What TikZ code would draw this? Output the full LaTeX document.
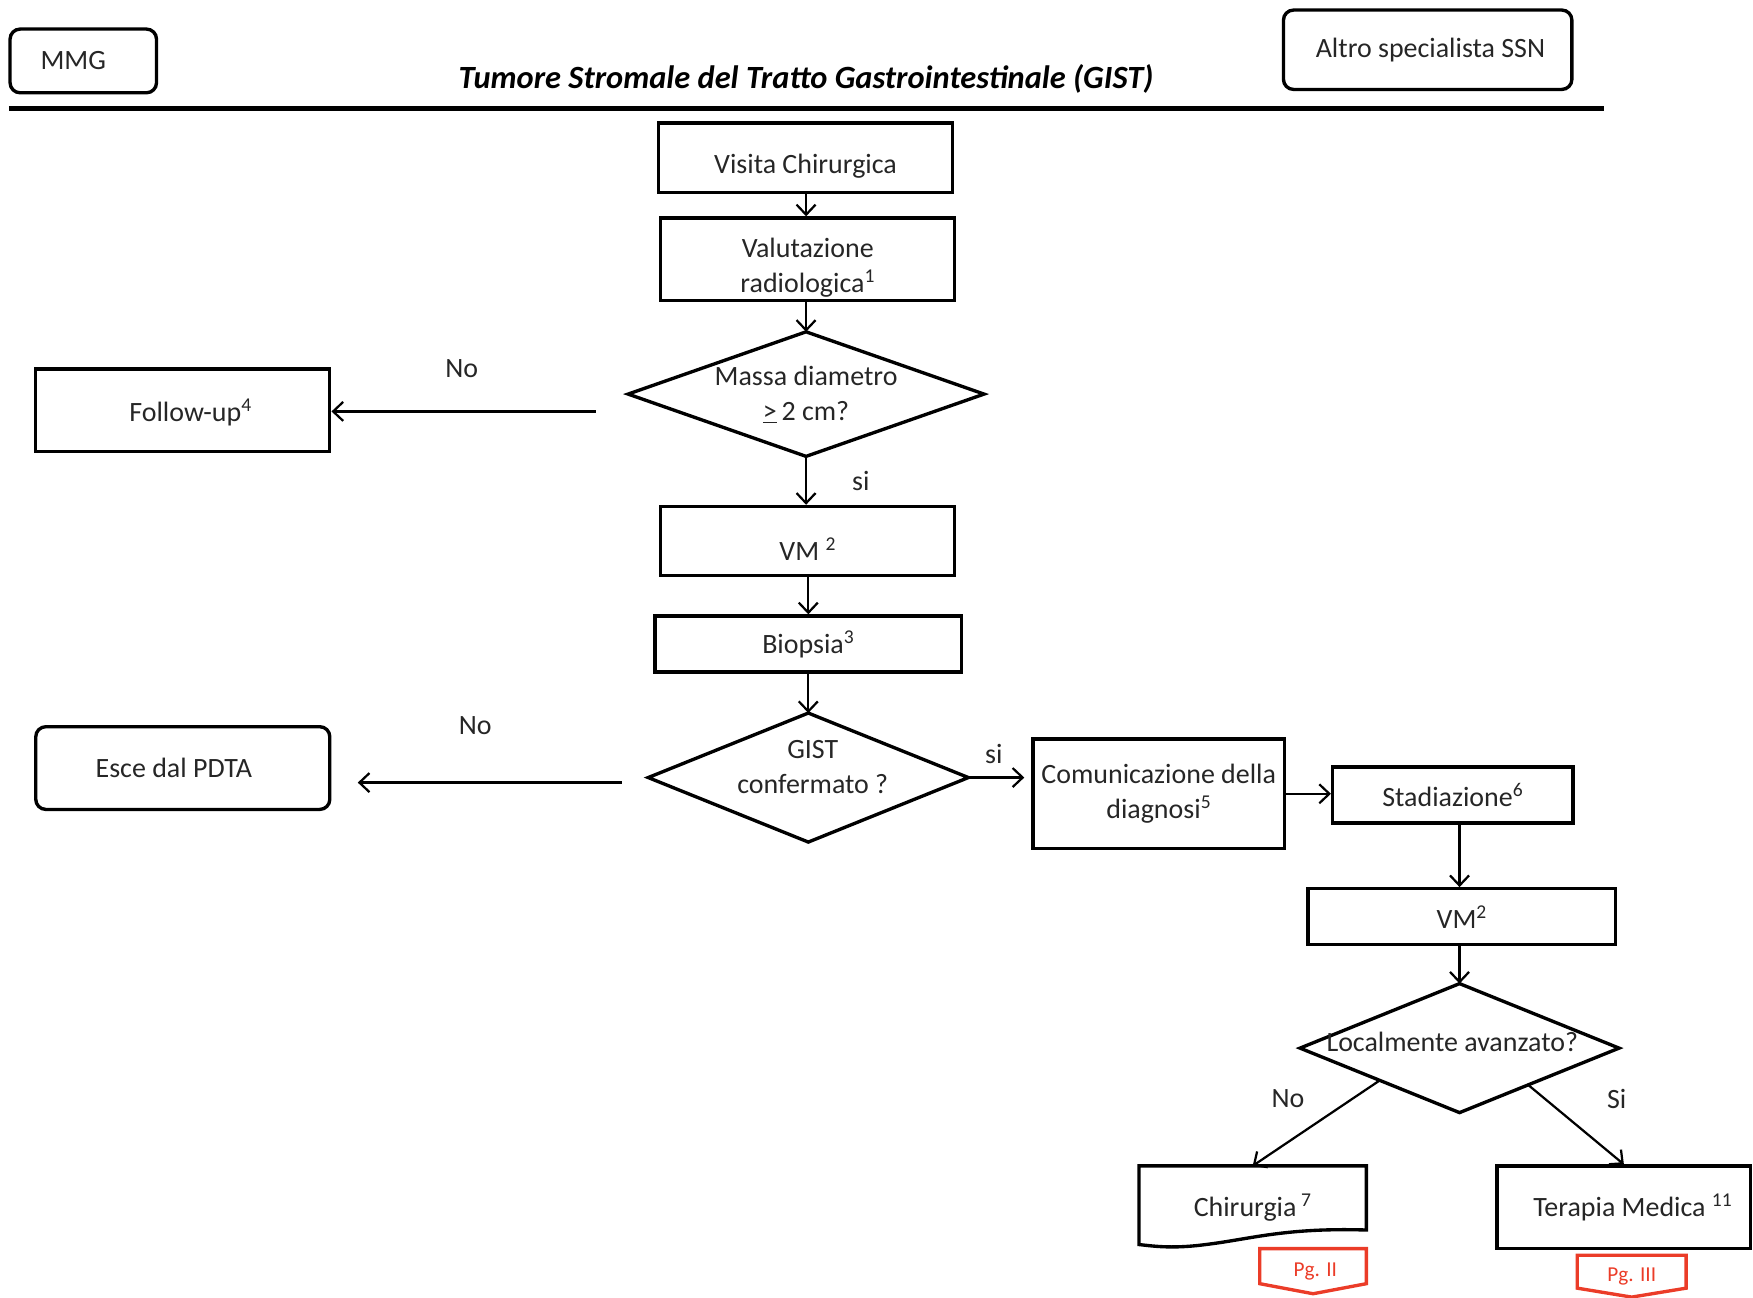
\documentclass[tikz,border=0pt]{standalone}
\usepackage{fontspec}
\setmainfont{Carlito}
\usetikzlibrary{arrows.meta,calc}
\definecolor{txt}{RGB}{38,38,38}
\definecolor{pgred}{RGB}{235,60,40}
\newcommand{\dropby}[2]{\raisebox{-#1}[\height][\depth]{#2}}
\begin{document}
\begin{tikzpicture}[x=1pt,y=-1pt,
  box/.style={draw, line width=3pt, inner sep=0pt, text=txt, font=\fontsize{25}{31}\selectfont, align=center},
  rbox/.style={box, rounded corners=9pt},
  ghost/.style={inner sep=0pt, text=txt, font=\fontsize{25}{31}\selectfont, align=center},
  dia/.style={line width=3pt, line join=miter},
  lab/.style={text=txt, font=\fontsize{25}{30}\selectfont},
  arr/.style={line width=2pt, -{Straight Barb[length=9pt,width=17pt,line width=2pt]}},
  pgshape/.style={draw=pgred, line width=3pt, line join=miter},
  pgtext/.style={text=pgred, font=\fontsize{19}{22}\selectfont}
]
\useasboundingbox (0,0) rectangle (1568,1161);

% header
\node[rbox, minimum width=131pt, minimum height=57pt] (mmg) at (74.5,54.5) {MMG\hspace*{18pt}};
\node[rbox, minimum width=258pt, minimum height=71pt] (altro) at (1277,44.5) {\hspace*{5pt}Altro specialista SSN};
\node[text=black, font=\fontsize{29}{33}\selectfont\bfseries\itshape] (title) at (721,71) {Tumore Stromale del Tratto Gastrointestinale (GIST)};
\coordinate (rl) at (8,97);
\coordinate (rr) at (1435,97);
\draw[line width=4pt] (rl) -- (rr);

% main column
\node[box, minimum width=263pt, minimum height=62pt] (vc) at (720.5,141) {\dropby{8pt}{Visita Chirurgica}};
\node[box, minimum width=263pt, minimum height=74pt] (vr) at (722.5,232) {\dropby{8pt}{\begin{tabular}{@{}c@{}}Valutazione\\radiologica\textsuperscript{1}\end{tabular}}};
\node[ghost, minimum width=318pt, minimum height=111pt] (massa) at (721,352.5) {\dropby{2pt}{\begin{tabular}{@{}c@{}}Massa diametro\\\underline{>}\,2 cm?\end{tabular}}};
\draw[dia] (massa.west) -- (massa.north) -- (massa.east) -- (massa.south) -- cycle;
\node[box, minimum width=263pt, minimum height=74pt] (fu) at (163.5,367) {\hspace*{14pt}\dropby{2pt}{Follow-up\textsuperscript{4}}};
\node[box, minimum width=263pt, minimum height=62pt] (vm1) at (722.5,484) {\dropby{7pt}{VM \textsuperscript{2}}};
\node[box, minimum width=274pt, minimum height=50pt] (bio) at (723,576) {Biopsia\textsuperscript{3}};
\node[ghost, minimum width=286pt, minimum height=115pt] (gist) at (723,695.5) {};
\draw[dia] (gist.west) -- (gist.north) -- (gist.east) -- (gist.south) -- cycle;
\node[ghost] (gisttxt) at (727,686) {GIST\\confermato ?};
\node[rbox, minimum width=263pt, minimum height=74pt] (esce) at (163.5,687) {Esce dal PDTA\hspace*{16pt}};

% right branch
\node[box, minimum width=225pt, minimum height=98pt] (comm) at (1036.5,710) {Comunicazione della\\diagnosi\textsuperscript{5}};
\node[box, minimum width=215pt, minimum height=50pt] (stad) at (1299.5,711) {Stadiazione\textsuperscript{6}};
\node[box, minimum width=275pt, minimum height=50pt] (vm2) at (1307.5,820) {VM\textsuperscript{2}};
\node[ghost, minimum width=285pt, minimum height=115pt] (loc) at (1305.5,937.5) {};
\draw[dia] (loc.west) -- (loc.north) -- (loc.east) -- (loc.south) -- cycle;
\node[ghost] (loctxt) at (1299,932) {Localmente avanzato?};

\node[ghost, minimum width=203pt, minimum height=70pt] (chir) at (1120.5,1078) {\dropby{2pt}{Chirurgia\,\textsuperscript{7}}};
\draw[dia] (chir.north west) -- (chir.north east) -- ($(chir.south east)+(0,-13)$)
  .. controls (1150,1098) and (1120,1108) .. (1080,1113)
  .. controls (1050,1117) and (1035,1115) .. (chir.south west) -- cycle;
\node[box, minimum width=227pt, minimum height=74pt] (ter) at (1452.5,1080) {\hspace*{16pt}Terapia Medica \textsuperscript{11}};

% off-page connectors
\node[pgtext, minimum width=95pt, minimum height=40pt, inner sep=0pt] (pg2) at (1174.5,1137) {\hspace*{4pt}Pg. II};
\draw[pgshape] (pg2.north west) -- (pg2.north east) -- ($(pg2.south east)+(0,-9)$) -- (pg2.south) -- ($(pg2.south west)+(0,-9)$) -- cycle;
\node[pgtext, minimum width=97pt, minimum height=37pt, inner sep=0pt] (pg3) at (1459.5,1141.5) {Pg. III};
\draw[pgshape] (pg3.north west) -- (pg3.north east) -- ($(pg3.south east)+(0,-8)$) -- (pg3.south) -- ($(pg3.south west)+(0,-8)$) -- cycle;

% connectors
\draw[arr] (vc.south -| 721,0) -- (vr.north -| 721,0);
\draw[arr] (vr.south -| 721,0) -- (massa.north);
\coordinate (n1) at (533,368);
\draw[arr] (n1) -- (fu.east |- n1);
\node[lab] (lno1) at (413,330) {No};
\draw[arr] (massa.south) -- (vm1.north -| massa.south);
\node[lab] (lsi1) at (770,430) {si};
\draw[arr] (vm1.south -| 723,0) -- (bio.north -| 723,0);
\draw[arr] (bio.south -| 723,0) -- (gist.north);
\coordinate (n2) at (556,700);
\coordinate (n2e) at (320,700);
\draw[arr] (n2) -- (n2e);
\node[lab] (lno2) at (425,649) {No};
\draw[arr] (gist.east) -- ++(50,0);
\node[lab] (lsi2) at (889,674) {si};
\draw[arr] (comm.east) -- (stad.west |- comm.east);
\draw[arr] (stad.south -| loc.north) -- (vm2.north -| loc.north);
\draw[arr] (vm2.south -| loc.north) -- (loc.north);
\coordinate (ls) at ($(loc.west)!0.5!(loc.south)$);
\coordinate (rs) at ($(loc.east)!0.57!(loc.south)$);
\draw[arr] (ls) -- (chir.north);
\draw[arr] (rs) -- (ter.north);
\node[lab] (lno3) at (1152,983) {No};
\node[lab] (lsi3) at (1446,983) {Si};
\end{tikzpicture}
\end{document}
